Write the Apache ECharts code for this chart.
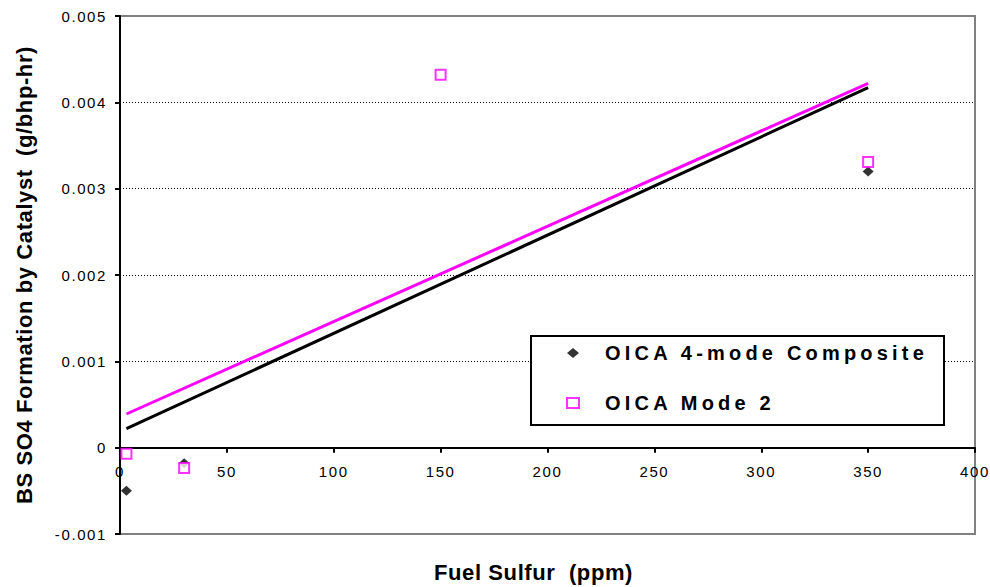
<!DOCTYPE html>
<html>
<head>
<meta charset="utf-8">
<script src="https://cdn.jsdelivr.net/npm/echarts@6/dist/echarts.min.js"></script>
<style>
  html, body { margin: 0; padding: 0; background: #fff; }
  #chart { width: 990px; height: 587px; }
  #chart svg text { white-space: pre; }
</style>
</head>
<body>
<div id="chart"></div>
<script>
// Measured BS SO4 formation by catalyst (g/bhp-hr) against fuel sulfur (ppm)
const compositeSulfur = [3, 30, 350];
const compositeSO4 = [-0.0005, -0.00018, 0.0032];
const mode2Sulfur = [3, 30, 150, 350];
const mode2SO4 = [-0.00007, -0.000235, 0.00432, 0.00331];

// Linear trend lines (end points)
const trendSulfur = [3, 350];
const compositeTrend = [0.00022, 0.00417];
const mode2Trend = [0.00039, 0.00422];

// Names and tick labels
const seriesNames = ['OICA 4-mode Composite', 'OICA Mode 2'];
const xTitle = 'Fuel Sulfur  (ppm)';
const yTitle = 'BS SO4 Formation by Catalyst  (g/bhp-hr)';
const xTickLabels = ['0', '50', '100', '150', '200', '250', '300', '350', '400'];
const yTickLabels = ['-0.001', '0', '0.001', '0.002', '0.003', '0.004', '0.005'];

const font = "'Liberation Sans', Arial, Helvetica, sans-serif";
const zip = (xs, ys) => xs.map((x, i) => [x, ys[i]]);

const xMin = Number(xTickLabels[0]);
const xMax = Number(xTickLabels[xTickLabels.length - 1]);
const xStep = Number(xTickLabels[1]) - xMin;
const yMin = Number(yTickLabels[0]);
const yMax = Number(yTickLabels[yTickLabels.length - 1]);
const yStep = Number(yTickLabels[1]) - yMin;

const chart = echarts.init(document.getElementById('chart'), null, { renderer: 'svg' });

// Letter spacing for the wide-tracked text
const spacingByText = {};
seriesNames.forEach(n => { spacingByText[n] = '4.2px'; });
spacingByText[xTitle] = '0.6px';
spacingByText[yTitle] = '0.6px';
function applySpacing() {
  document.querySelectorAll('#chart svg text').forEach(t => {
    const s = spacingByText[t.textContent];
    t.style.letterSpacing = s || '1.6px';
  });
}
chart.on('finished', applySpacing);

const axisName = { fontSize: 22, fontWeight: 'bold', color: '#000', fontFamily: font };
const tickLabel = { fontSize: 15, color: '#000', fontFamily: font };

chart.setOption({
  animation: false,
  backgroundColor: '#fff',
  textStyle: { fontFamily: font, color: '#000' },
  grid: {
    left: 120, right: 15, top: 16, bottom: 53,
    containLabel: false, outerBoundsMode: 'none',
    show: true, borderColor: '#808080', borderWidth: 2, backgroundColor: 'transparent'
  },
  legend: {
    data: seriesNames,
    orient: 'vertical',
    left: 531, top: 336,
    padding: [7, 39, 12, 35],
    itemGap: 30, itemWidth: 12, itemHeight: 10,
    backgroundColor: '#fff', borderColor: '#000', borderWidth: 2, borderRadius: 0,
    selectedMode: false,
    textStyle: {
      fontSize: 20, fontWeight: 'bold', color: '#000', fontFamily: font,
      lineHeight: 20, padding: [0, 0, 0, 21], width: 300
    }
  },
  xAxis: {
    type: 'value', min: xMin, max: xMax, interval: xStep,
    axisLine: { onZero: true, lineStyle: { color: '#000', width: 2 } },
    axisTick: { show: true, inside: false, length: 5, lineStyle: { color: '#000', width: 2 } },
    axisLabel: Object.assign({ margin: -70, formatter: (v, i) => xTickLabels[i] }, tickLabel),
    splitLine: { show: false },
    name: xTitle, nameLocation: 'middle', nameGap: 27, nameMoveOverlap: false,
    nameTextStyle: Object.assign({ padding: [0, 28, 0, 0] }, axisName)
  },
  yAxis: {
    type: 'value', min: yMin, max: yMax, interval: yStep,
    axisLine: { onZero: false, lineStyle: { color: '#000', width: 2 } },
    axisTick: { show: true, inside: false, length: 5, lineStyle: { color: '#000', width: 2 } },
    axisLabel: Object.assign({ margin: 13, formatter: (v, i) => yTickLabels[i] }, tickLabel),
    splitLine: {
      show: true, showMinLine: false, showMaxLine: false,
      lineStyle: { color: '#000', width: 1, type: [1, 2] }
    },
    name: yTitle, nameLocation: 'middle', nameGap: 85, nameRotate: 90, nameMoveOverlap: false,
    nameTextStyle: axisName
  },
  series: [
    {
      type: 'line', data: zip(trendSulfur, compositeTrend),
      symbol: 'none', silent: true,
      lineStyle: { color: '#000', width: 3 }
    },
    {
      type: 'line', data: zip(trendSulfur, mode2Trend),
      symbol: 'none', silent: true,
      lineStyle: { color: '#ff00ff', width: 3 }
    },
    {
      name: seriesNames[0], type: 'scatter', data: zip(compositeSulfur, compositeSO4),
      symbol: 'diamond', symbolSize: [11, 10],
      itemStyle: { color: '#000' }
    },
    {
      name: seriesNames[1], type: 'scatter', data: zip(mode2Sulfur, mode2SO4),
      symbol: 'rect', symbolSize: [10, 10],
      itemStyle: { color: '#fff', borderColor: '#ff00ff', borderWidth: 2 }
    }
  ]
});
applySpacing();
setTimeout(applySpacing, 50);
</script>
</body>
</html>
